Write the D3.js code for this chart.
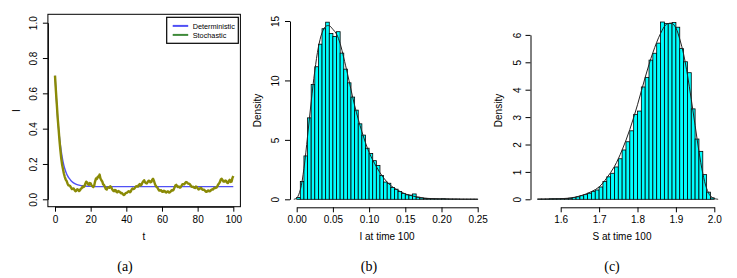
<!DOCTYPE html>
<html>
<head>
<meta charset="utf-8">
<script src="https://cdn.jsdelivr.net/npm/d3@7"></script>
<style>
  body { margin: 0; background: #fff; }
  text { font-family: "Liberation Sans", Arial, sans-serif; }
</style>
</head>
<body>
<svg id="fig" width="737" height="278"></svg>
<script>
"use strict";

// panel (a): I over time
const detT = [0, 1, 2, 3, 4, 5, 6, 7, 8, 9, 10, 12, 14, 16, 18, 20, 25, 30, 100];
const detI = [0.70, 0.53, 0.40, 0.31, 0.24, 0.19, 0.158, 0.134, 0.118, 0.105, 0.096, 0.085, 0.079, 0.076, 0.074, 0.073, 0.072, 0.072, 0.072];

// stochastic path at t = 0,1,...,100
const stoI = [
  0.700, 0.540, 0.400, 0.280, 0.195, 0.145, 0.112, 0.090, 0.078, 0.066,
  0.060, 0.052, 0.049, 0.054, 0.051, 0.063, 0.070, 0.088, 0.096, 0.082,
  0.090, 0.074, 0.078, 0.118, 0.128, 0.140, 0.108, 0.085, 0.070, 0.055,
  0.068, 0.074, 0.058, 0.046, 0.052, 0.040, 0.044, 0.034, 0.030, 0.026,
  0.036, 0.044, 0.040, 0.055, 0.058, 0.068, 0.072, 0.082, 0.078, 0.094,
  0.108, 0.092, 0.098, 0.104, 0.098, 0.116, 0.088, 0.070, 0.055, 0.050,
  0.044, 0.048, 0.040, 0.044, 0.038, 0.046, 0.050, 0.066, 0.082, 0.070,
  0.066, 0.078, 0.086, 0.092, 0.096, 0.088, 0.080, 0.070, 0.066, 0.072,
  0.062, 0.058, 0.064, 0.054, 0.050, 0.042, 0.050, 0.046, 0.056, 0.060,
  0.064, 0.072, 0.090, 0.112, 0.108, 0.100, 0.104, 0.092, 0.110, 0.100,
  0.132
];
// stochastic path at t = 0.5,1.5,...,99.5
const stoHalf = [
  0.615, 0.462, 0.335, 0.232, 0.170, 0.126, 0.104, 0.079, 0.075, 0.058,
  0.061, 0.046, 0.057, 0.047, 0.060, 0.072, 0.074, 0.100, 0.085, 0.092,
  0.079, 0.070, 0.102, 0.115, 0.126, 0.118, 0.101, 0.081, 0.058, 0.066,
  0.065, 0.069, 0.050, 0.053, 0.041, 0.047, 0.040, 0.036, 0.024, 0.034,
  0.038, 0.046, 0.044, 0.061, 0.060, 0.074, 0.072, 0.086, 0.083, 0.102,
  0.096, 0.090, 0.105, 0.096, 0.110, 0.104, 0.076, 0.066, 0.049, 0.051,
  0.042, 0.047, 0.038, 0.045, 0.040, 0.052, 0.054, 0.078, 0.074, 0.072,
  0.068, 0.086, 0.085, 0.098, 0.090, 0.087, 0.072, 0.071, 0.064, 0.070,
  0.056, 0.064, 0.056, 0.055, 0.044, 0.048, 0.045, 0.053, 0.055, 0.066,
  0.066, 0.084, 0.098, 0.116, 0.100, 0.106, 0.094, 0.104, 0.098, 0.120
];
const legendLabels = ["Deterministic", "Stochastic"];

// panel (b): histogram of I at time 100, bins of 0.005 from 0
const bBinWidth = 0.005;
const bDensity = [
  0.15, 1.5, 3.65, 6.85, 9.65, 11.15, 13.05, 14.35, 14.9, 13.95,
  13.7, 14.1, 12.3, 10.95, 9.8, 8.6, 7.5, 6.35, 5.4, 4.3,
  3.85, 3.25, 2.85, 2.0, 1.45, 1.35, 1.0, 0.85, 0.65, 0.5,
  0.38, 0.35, 0.45, 0.18, 0.12, 0.08, 0.06, 0.05, 0.04, 0.03,
  0.05, 0.03, 0.02, 0.02, 0.02, 0.01, 0.01, 0.01, 0.01, 0.01
];
const bKdeX = [-0.004, 0, 0.005, 0.01, 0.015, 0.02, 0.025, 0.03, 0.035, 0.04, 0.045, 0.05, 0.055, 0.06, 0.065, 0.07, 0.08, 0.09, 0.10, 0.11, 0.12, 0.13, 0.14, 0.15, 0.16, 0.17, 0.18, 0.20, 0.22, 0.25];
const bKdeY = [0, 0.1, 0.8, 2.6, 5.3, 8.2, 10.8, 12.8, 14.0, 14.55, 14.6, 14.3, 13.9, 13.1, 11.9, 10.6, 7.9, 5.7, 3.95, 2.75, 1.8, 1.15, 0.75, 0.45, 0.28, 0.15, 0.08, 0.04, 0.02, 0.01];

// panel (c): histogram of S at time 100, bins of 0.01 from 1.54
const cStart = 1.54;
const cBinWidth = 0.01;
const cDensity = [
  0.01, 0.01, 0.01, 0.02, 0.02, 0.02, 0.03, 0.03, 0.04, 0.06,
  0.09, 0.13, 0.17, 0.22, 0.28, 0.34, 0.45, 0.65, 0.82, 0.95,
  1.18, 1.48, 1.8, 2.1, 2.5, 3.1, 3.22, 4.1, 4.45, 5.08,
  5.33, 5.7, 6.47, 6.42, 6.42, 6.45, 6.28, 5.5, 5.02, 4.62,
  3.3, 2.2, 1.75, 0.9, 0.26, 0.05
];
const cKdeX = [1.54, 1.58, 1.62, 1.65, 1.68, 1.70, 1.72, 1.74, 1.76, 1.78, 1.80, 1.82, 1.84, 1.86, 1.875, 1.89, 1.90, 1.91, 1.92, 1.93, 1.94, 1.95, 1.96, 1.97, 1.98, 1.99, 2.0, 2.01];
const cKdeY = [0.005, 0.015, 0.04, 0.12, 0.28, 0.45, 0.78, 1.2, 1.8, 2.55, 3.45, 4.45, 5.35, 6.05, 6.38, 6.42, 6.25, 5.85, 5.3, 4.55, 3.65, 2.7, 1.75, 0.95, 0.4, 0.12, 0.03, 0];

const captions = ["(a)", "(b)", "(c)"];

const svg = d3.select("#fig");
svg.append("rect").attr("width", 737).attr("height", 278).attr("fill", "#fff");

// rotate y tick labels like R (parallel to the axis)
function rotateYLabels(g, off) {
  g.selectAll(".tick text")
    .attr("transform", "rotate(-90)")
    .attr("x", 0)
    .attr("y", -off)
    .attr("dy", 0)
    .attr("text-anchor", "middle");
}
function styleAxis(g) {
  g.selectAll("text").attr("font-size", 10).attr("fill", "#000");
  g.selectAll("line, path").attr("stroke", "#000");
}

// ---------- panel (a) ----------
const xA = d3.scaleLinear().domain([0, 100]).range([55, 233.3]);
const yA = d3.scaleLinear().domain([0, 1]).range([199.3, 22.7]);

svg.append("g")
  .attr("transform", "translate(47.9,0)")
  .call(d3.axisLeft(yA).tickValues([0, 0.2, 0.4, 0.6, 0.8, 1]).tickFormat(d3.format(".1f")).tickSize(5).tickSizeOuter(0))
  .call(styleAxis)
  .call((g) => rotateYLabels(g, 11));

svg.append("g")
  .attr("transform", "translate(0,206.7)")
  .call(d3.axisBottom(xA).tickValues([0, 20, 40, 60, 80, 100]).tickSize(5).tickPadding(4).tickSizeOuter(0))
  .call(styleAxis);

svg.append("path")
  .datum(detT.map((t, i) => [t, detI[i]]))
  .attr("d", d3.line().x((d) => xA(d[0])).y((d) => yA(d[1])).curve(d3.curveMonotoneX))
  .attr("fill", "none")
  .attr("stroke", "#5050f5")
  .attr("stroke-width", 1.4);

// merge integer and half-step points into one path
const stoPts = [];
stoI.forEach((v, i) => {
  stoPts.push([i, v]);
  if (i < stoHalf.length) stoPts.push([i + 0.5, stoHalf[i]]);
});

svg.append("path")
  .datum(stoPts)
  .attr("d", d3.line().x((d) => xA(d[0])).y((d) => yA(d[1])))
  .attr("fill", "none")
  .attr("stroke", "#8a8a06")
  .attr("stroke-width", 2.4)
  .attr("stroke-linejoin", "round");

svg.append("rect")
  .attr("x", 47.9).attr("y", 14.3)
  .attr("width", 240.4 - 47.9).attr("height", 206.7 - 14.3)
  .attr("fill", "none").attr("stroke", "#000").attr("stroke-width", 1);

// legend
const leg = svg.append("g").attr("transform", "translate(166.7,17.3)");
leg.append("rect").attr("width", 71.6).attr("height", 26)
  .attr("fill", "#fff").attr("stroke", "#000").attr("stroke-width", 1.2);
const legColors = ["#5050f5", "#3f8a3a"];
legendLabels.forEach((lab, i) => {
  leg.append("line")
    .attr("x1", 6).attr("x2", 21.5)
    .attr("y1", 8.6 + i * 9).attr("y2", 8.6 + i * 9)
    .attr("stroke", legColors[i]).attr("stroke-width", 2);
  leg.append("text")
    .attr("x", 26).attr("y", 11.3 + i * 9)
    .attr("font-size", 7.3)
    .text(lab);
});

svg.append("text").attr("x", 144).attr("y", 240).attr("text-anchor", "middle").attr("font-size", 10).text("t");
svg.append("text").attr("transform", "translate(19.5,110.5) rotate(-90)").attr("text-anchor", "middle").attr("font-size", 10).text("I");

// ---------- panel (b) ----------
const xB = d3.scaleLinear().domain([0, 0.25]).range([296.7, 477.7]);
const yB = d3.scaleLinear().domain([0, 15]).range([199.3, 21]);

svg.append("g")
  .selectAll("rect")
  .data(bDensity)
  .join("rect")
  .attr("x", (d, i) => xB(i * bBinWidth))
  .attr("width", (d, i) => xB((i + 1) * bBinWidth) - xB(i * bBinWidth))
  .attr("y", (d) => yB(d))
  .attr("height", (d) => yB(0) - yB(d))
  .attr("fill", "#00ffff")
  .attr("stroke", "#000")
  .attr("stroke-width", 0.8);

svg.append("path")
  .datum(bKdeX.map((x, i) => [x, bKdeY[i]]))
  .attr("d", d3.line().x((d) => xB(d[0])).y((d) => yB(d[1])).curve(d3.curveCatmullRom))
  .attr("fill", "none").attr("stroke", "#222").attr("stroke-width", 1);

svg.append("g")
  .attr("transform", "translate(290,0)")
  .call(d3.axisLeft(yB).tickValues([0, 5, 10, 15]).tickFormat(d3.format("d")).tickSize(5).tickSizeOuter(0))
  .call(styleAxis)
  .call((g) => rotateYLabels(g, 11));

svg.append("g")
  .attr("transform", "translate(0,207.3)")
  .call(d3.axisBottom(xB).tickValues([0, 0.05, 0.1, 0.15, 0.2, 0.25]).tickFormat(d3.format(".2f")).tickSize(5).tickPadding(4).tickSizeOuter(0))
  .call(styleAxis);

svg.append("text").attr("x", 387).attr("y", 240).attr("text-anchor", "middle").attr("font-size", 10).text("I at time 100");
svg.append("text").attr("transform", "translate(260.5,110.5) rotate(-90)").attr("text-anchor", "middle").attr("font-size", 10).text("Density");

// ---------- panel (c) ----------
const xC = d3.scaleLinear().domain([1.6, 2.0]).range([560.7, 714.3]);
const yC = d3.scaleLinear().domain([0, 6]).range([199.3, 34.9]);

svg.append("g")
  .selectAll("rect")
  .data(cDensity)
  .join("rect")
  .attr("x", (d, i) => xC(cStart + i * cBinWidth))
  .attr("width", (d, i) => xC(cStart + (i + 1) * cBinWidth) - xC(cStart + i * cBinWidth))
  .attr("y", (d) => yC(d))
  .attr("height", (d) => yC(0) - yC(d))
  .attr("fill", "#00ffff")
  .attr("stroke", "#000")
  .attr("stroke-width", 0.8);

svg.append("path")
  .datum(cKdeX.map((x, i) => [x, cKdeY[i]]))
  .attr("d", d3.line().x((d) => xC(d[0])).y((d) => yC(d[1])).curve(d3.curveCatmullRom))
  .attr("fill", "none").attr("stroke", "#222").attr("stroke-width", 1);

svg.append("g")
  .attr("transform", "translate(530.5,0)")
  .call(d3.axisLeft(yC).tickValues([0, 1, 2, 3, 4, 5, 6]).tickFormat(d3.format("d")).tickSize(5).tickSizeOuter(0))
  .call(styleAxis)
  .call((g) => rotateYLabels(g, 10));

svg.append("g")
  .attr("transform", "translate(0,207.3)")
  .call(d3.axisBottom(xC).tickValues([1.6, 1.7, 1.8, 1.9, 2.0]).tickFormat(d3.format(".1f")).tickSize(5).tickPadding(4).tickSizeOuter(0))
  .call(styleAxis);

svg.append("text").attr("x", 622).attr("y", 240).attr("text-anchor", "middle").attr("font-size", 10).text("S at time 100");
svg.append("text").attr("transform", "translate(501.5,110.5) rotate(-90)").attr("text-anchor", "middle").attr("font-size", 10).text("Density");

// captions (serif, set via style so the CSS rule does not override it)
const capX = [125, 369, 612];
captions.forEach((c, i) => {
  svg.append("text")
    .attr("x", capX[i]).attr("y", 271)
    .attr("text-anchor", "middle")
    .attr("font-size", 14)
    .style("font-family", "'Liberation Serif', 'Times New Roman', serif")
    .text(c);
});
</script>
</body>
</html>
